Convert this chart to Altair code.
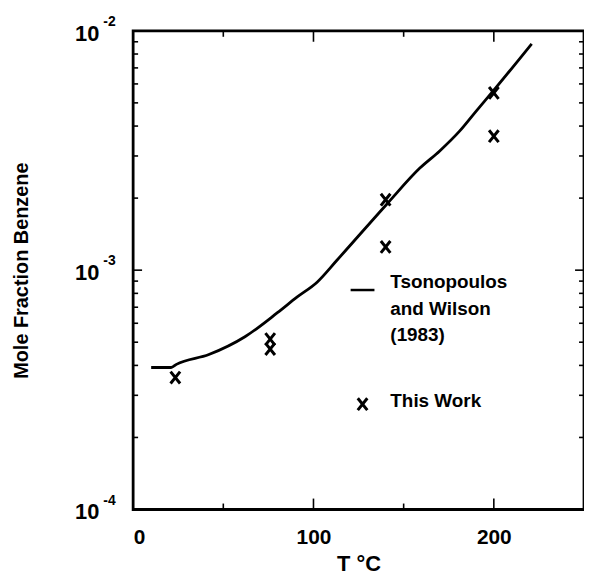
import altair as alt
import pandas as pd

# ---- data ----
line_T = [10, 21, 24, 42, 62, 80, 91, 102, 113, 141, 159, 170, 181, 190, 200, 221]
line_y = [3.92e-4, 3.92e-4, 4.04e-4, 4.44e-4, 5.27e-4, 6.64e-4, 7.73e-4, 8.91e-4,
          1.10e-3, 1.90e-3, 2.67e-3, 3.15e-3, 3.81e-3, 4.6e-3, 5.65e-3, 8.83e-3]

pts_T = [23.4, 76, 76, 140, 140, 200, 200]
pts_y = [3.56e-4, 5.15e-4, 4.68e-4, 1.97e-3, 1.25e-3, 5.5e-3, 3.63e-3]

x_label_vals = [0, 100, 200]
x_major_ticks = [100, 200]
x_minor_ticks = [50, 150]

y_label_vals = [1e-4, 1e-3, 1e-2]
y_label_base = ["10", "10", "10"]
y_label_exp = ["-4", "-3", "-2"]
y_major_ticks = [1e-3]
y_minor_ticks = [2e-4, 3e-4, 4e-4, 5e-4, 6e-4, 7e-4, 8e-4, 9e-4,
                 2e-3, 3e-3, 4e-3, 5e-3, 6e-3, 7e-3, 8e-3, 9e-3]

legend_lines = ["Tsonopoulos", "and Wilson", "(1983)"]
legend_points = ["This Work"]

W, H = 454, 482
FONT = "Liberation Sans"

xs = alt.Scale(domain=[0, 250], nice=False, zero=False)
ys = alt.Scale(type="log", domain=[1e-4, 1e-2], nice=False)

x_axis = alt.Axis(title="T °C", values=x_label_vals, ticks=False, domain=False,
                  grid=False, labelFont=FONT, labelFontSize=21,
                  labelFontWeight="bold", labelColor="black", labelPadding=17,
                  titleFont=FONT, titleFontSize=22, titleFontWeight="bold",
                  titleColor="black", titleY=61, titleBaseline="alphabetic")
y_axis = alt.Axis(title="Mole Fraction Benzene", labels=False, ticks=False,
                  domain=False, grid=False, titleFont=FONT, titleFontSize=20,
                  titleFontWeight="bold", titleColor="black", titleX=-112,
                  titleY=H / 2, titleAlign="center", titleBaseline="middle",
                  titleAngle=270)


def X(field):
    return alt.X(field, scale=xs, axis=x_axis, title="T °C")


def Y(field):
    return alt.Y(field, scale=ys, axis=y_axis, title="Mole Fraction Benzene")


XMARK = "M-0.8,-1L0.8,1M-0.8,1L0.8,-1"

df_line = pd.DataFrame({"T": line_T, "y": line_y})
df_pts = pd.DataFrame({"T": pts_T, "y": pts_y})

line = alt.Chart(df_line).mark_line(color="black", strokeWidth=2.8,
                                    interpolate="monotone").encode(
    x=X("T:Q"), y=Y("y:Q"))

pts = alt.Chart(df_pts).mark_point(shape=XMARK, size=144, color="black",
                                   strokeWidth=3, filled=False, opacity=1).encode(
    x=X("T:Q"), y=Y("y:Q"))


def yticks(vals, length):
    d = pd.DataFrame({"v": vals})
    left = alt.Chart(d).mark_rule(color="black", strokeWidth=1.6).encode(
        y=Y("v:Q"), x=alt.value(0), x2=alt.value(length))
    right = alt.Chart(d).mark_rule(color="black", strokeWidth=1.6).encode(
        y=Y("v:Q"), x=alt.value(W - length), x2=alt.value(W))
    return [left, right]


def xticks(vals, length):
    d = pd.DataFrame({"v": vals})
    top = alt.Chart(d).mark_rule(color="black", strokeWidth=1.6).encode(
        x=X("v:Q"), y=alt.value(0), y2=alt.value(length))
    bottom = alt.Chart(d).mark_rule(color="black", strokeWidth=1.6).encode(
        x=X("v:Q"), y=alt.value(H - length), y2=alt.value(H))
    return [top, bottom]


tick_layers = (yticks(y_major_ticks, 9) + yticks(y_minor_ticks, 5)
               + xticks(x_major_ticks, 11) + xticks(x_minor_ticks, 6))

df_ylab = pd.DataFrame({"v": y_label_vals, "base": y_label_base, "exp": y_label_exp})
ylab_base = alt.Chart(df_ylab).mark_text(
    font=FONT, fontSize=22, fontWeight="bold", color="black", align="right",
    baseline="middle", dy=3).encode(
    y=Y("v:Q"), x=alt.value(-34), text="base:N")
ylab_exp = alt.Chart(df_ylab).mark_text(
    font=FONT, fontSize=14, fontWeight="bold", color="black", align="left",
    baseline="middle", dy=-9).encode(
    y=Y("v:Q"), x=alt.value(-30), text="exp:N")


def legend_text(txt, px, py):
    return alt.Chart(pd.DataFrame({"t": [txt]})).mark_text(
        font=FONT, fontSize=19, fontWeight="bold", color="black", align="left",
        baseline="middle").encode(text="t:N", x=alt.value(px), y=alt.value(py))


leg_line = alt.Chart(pd.DataFrame({"a": [0]})).mark_rule(color="black", strokeWidth=2.5).encode(
    x=alt.value(219), x2=alt.value(243), y=alt.value(261))
leg_pt = alt.Chart(pd.DataFrame({"a": [0]})).mark_point(
    shape=XMARK, size=144, color="black", strokeWidth=3, filled=False, opacity=1).encode(
    x=alt.value(231), y=alt.value(376))

legend_layers = [leg_line, leg_pt,
                 legend_text(legend_lines[0], 259, 253),
                 legend_text(legend_lines[1], 259, 280),
                 legend_text(legend_lines[2], 259, 306),
                 legend_text(legend_points[0], 259, 373)]

chart = alt.layer(line, pts, *tick_layers, ylab_base, ylab_exp, *legend_layers).properties(
    width=W, height=H, autosize="none",
    padding={"left": 126, "top": 21, "right": 0, "bottom": 68},
    background="white",
).configure_view(stroke="black", strokeWidth=2.8)

chart.save("out.html", embed_options={"renderer": "svg", "actions": False})
